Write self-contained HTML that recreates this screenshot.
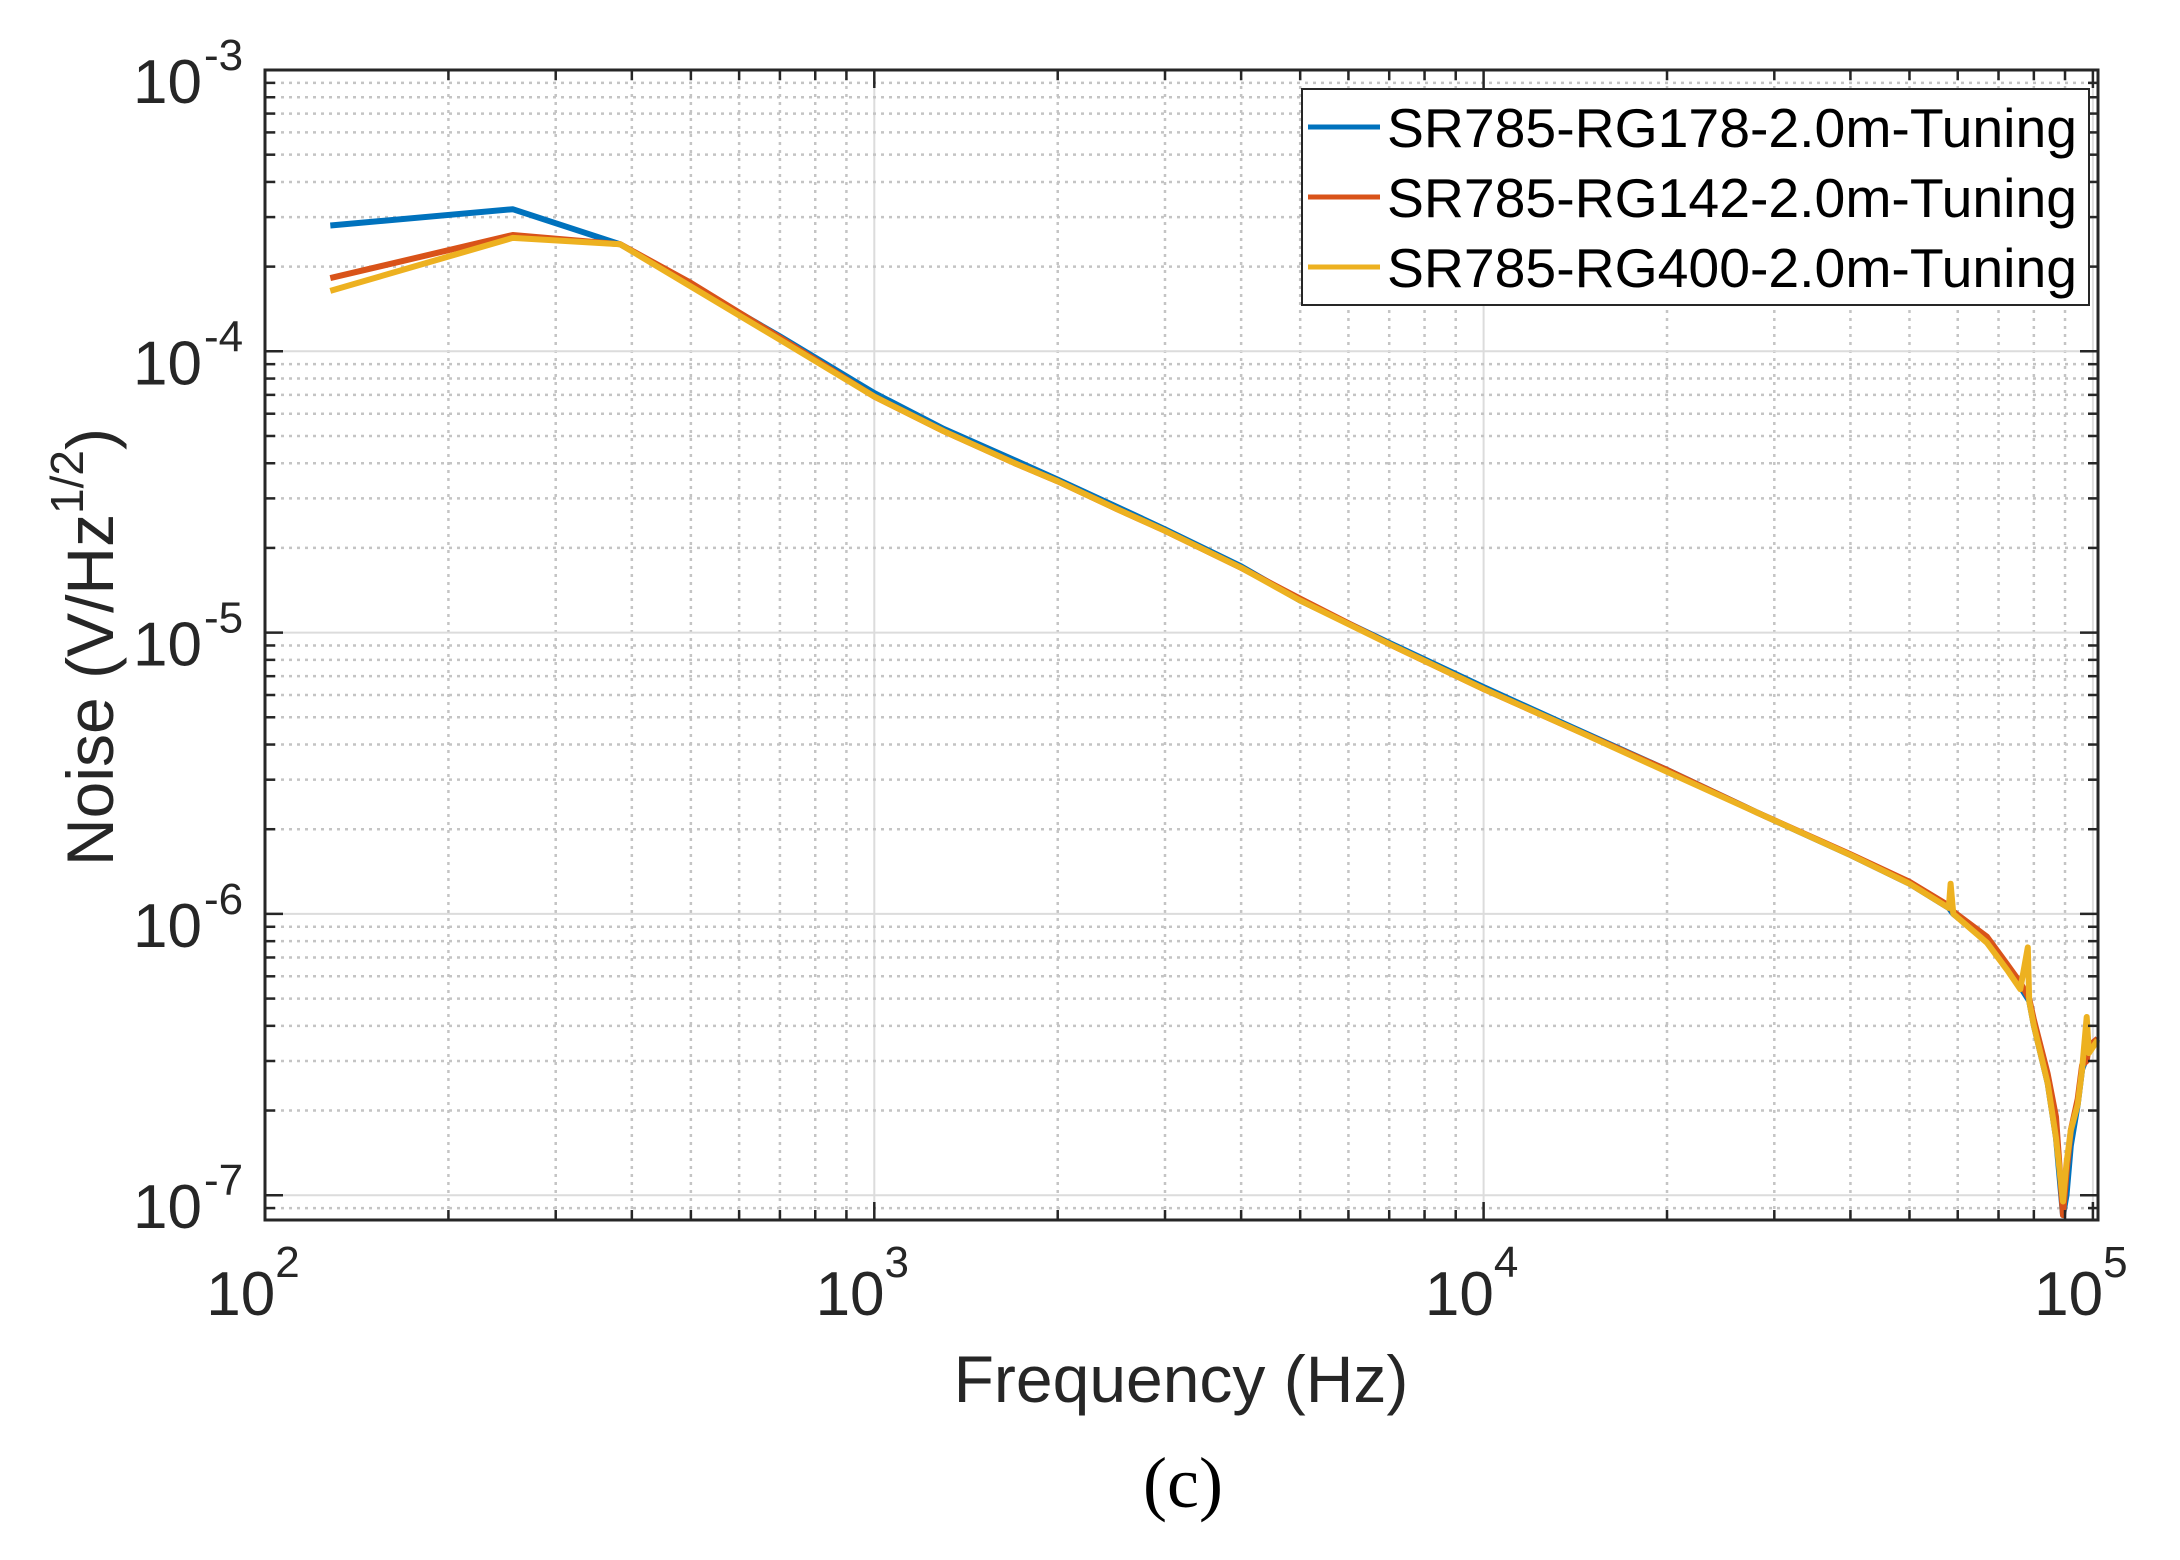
<!DOCTYPE html>
<html><head><meta charset="utf-8">
<style>
html,body{margin:0;padding:0;background:#fff;}
svg{display:block;font-family:"Liberation Sans",Arial,sans-serif;}
</style></head>
<body>
<svg id="chart" width="2180" height="1560" viewBox="0 0 2180 1560" xmlns="http://www.w3.org/2000/svg">
<rect width="2180" height="1560" fill="#fff"/>
<g id="grid"></g>
<g id="series"></g>
<g id="axes"></g>
<g id="legend"></g>
<text x="1181" y="1402" font-size="66" text-anchor="middle" fill="#262626">Frequency (Hz)</text>
<text transform="translate(113,647) rotate(-90)" font-size="66" text-anchor="middle" fill="#262626">Noise (V/Hz<tspan font-size="46" dy="-30">1/2</tspan><tspan dy="30">)</tspan></text>
<text x="1183" y="1507" font-size="72" text-anchor="middle" fill="#000" font-family="'Liberation Serif',serif">(c)</text>
</svg>
<script>
// ---- data ----
const seriesNames = ["SR785-RG178-2.0m-Tuning","SR785-RG142-2.0m-Tuning","SR785-RG400-2.0m-Tuning"];
const seriesColors = ["#0072BD","#D95319","#EDB120"];
const freqA = [128,255,383,500,700,1000,1300,1700,2000,2500,3000,4000,5000,7000,10000,14000,20000,28000,40000,50000,58000,58400,59000,67000,72400,76000,78200,78600,80000,84300,87000,89300,90500,92000,94400,96000,97700,98500,101800];
const blueVals = [2.8e-4,3.2e-4,2.4e-4,1.72e-4,1.13e-4,7.1e-5,5.3e-5,4.1e-5,3.5e-5,2.8e-5,2.33e-5,1.72e-5,1.3e-5,9.2e-6,6.4e-6,4.6e-6,3.25e-6,2.3e-6,1.62e-6,1.28e-6,1.05e-6,1.03e-6,1.0e-6,8.0e-7,6.4e-7,5.5e-7,5.0e-7,4.9e-7,4.0e-7,2.5e-7,1.6e-7,8.5e-8,1.0e-7,1.5e-7,2.1e-7,2.8e-7,3.1e-7,3.3e-7,3.6e-7];
const redVals = [1.82e-4,2.59e-4,2.4e-4,1.75e-4,1.12e-4,6.9e-5,5.2e-5,4.0e-5,3.45e-5,2.75e-5,2.3e-5,1.7e-5,1.32e-5,9.1e-6,6.3e-6,4.55e-6,3.25e-6,2.3e-6,1.63e-6,1.3e-6,1.07e-6,1.05e-6,1.02e-6,8.3e-7,6.6e-7,5.7e-7,5.1e-7,5.0e-7,4.2e-7,2.7e-7,1.9e-7,8.5e-8,1.2e-7,1.7e-7,2.2e-7,2.9e-7,3.0e-7,3.4e-7,3.6e-7];
const yellowVals = [1.64e-4,2.53e-4,2.4e-4,1.7e-4,1.1e-4,6.9e-5,5.2e-5,4.0e-5,3.45e-5,2.75e-5,2.3e-5,1.7e-5,1.3e-5,9.1e-6,6.3e-6,4.55e-6,3.2e-6,2.3e-6,1.62e-6,1.28e-6,1.05e-6,1.28e-6,1.0e-6,7.9e-7,6.3e-7,5.4e-7,7.6e-7,4.9e-7,4.0e-7,2.5e-7,1.6e-7,9.5e-8,1.3e-7,1.7e-7,2.1e-7,2.8e-7,4.3e-7,3.2e-7,3.56e-7];
const xTickExps = [2,3,4,5];
const yTickExps = [-3,-4,-5,-6,-7];

// ---- layout ----
const L=265,R=2098,T=70,B=1220,DX=609.3,DY=281.3;
const X=f=>L+(Math.log10(f)-2)*DX;
const Y=v=>T+(-3-Math.log10(v))*DY;
const NS="http://www.w3.org/2000/svg";
function mk(tag,attrs,parent){const e=document.createElementNS(NS,tag);for(const k in attrs)e.setAttribute(k,attrs[k]);parent.appendChild(e);return e;}
const grid=document.getElementById('grid'),axes=document.getElementById('axes'),ser=document.getElementById('series'),leg=document.getElementById('legend');
const xMax=Math.pow(10,2+(R-L)/DX), yMin=Math.pow(10,-3-(B-T)/DY);

for(let d=2;d<=5;d++){for(let m=1;m<10;m++){const f=m*Math.pow(10,d);if(f>xMax)break;const x=X(f);if(x<L-0.5)continue;
 const major=m===1;
 const g=mk('line',{x1:x,x2:x,y1:T,y2:B,stroke:major?'#dcdcdc':'#c4c4c4','stroke-width':major?2:2.5,'stroke-dasharray':major?'':'3 5'},grid);
 
 
 const tl=major?18:10;
 const t1=mk('line',{x1:x,x2:x,y1:B,y2:B-tl,stroke:'#262626','stroke-width':2.5},axes);
 
 
 const t2=mk('line',{x1:x,x2:x,y1:T,y2:T+tl,stroke:'#262626','stroke-width':2.5},axes);
 
 
}}
for(let d=-8;d<=-4;d++){for(let m=1;m<10;m++){const v=m*Math.pow(10,d);if(v<yMin||v>1e-3+1e-12)continue;const y=Y(v);
 const major=m===1;
 const g=mk('line',{x1:L,x2:R,y1:y,y2:y,stroke:major?'#dcdcdc':'#c4c4c4','stroke-width':major?2:2.5,'stroke-dasharray':major?'':'3 5'},grid);
 
 
 const tl=major?18:10;
 const t1=mk('line',{x1:L,x2:L+tl,y1:y,y2:y,stroke:'#262626','stroke-width':2.5},axes);
 
 
 const t2=mk('line',{x1:R,x2:R-tl,y1:y,y2:y,stroke:'#262626','stroke-width':2.5},axes);
 
 
}}
const allVals=[blueVals,redVals,yellowVals];
allVals.forEach((vals,i)=>{
 const d=freqA.map((f,j)=>(j?'L':'M')+X(f).toFixed(1)+','+Math.min(Y(vals[j]),B+2).toFixed(1)).join(' ');
 const p=mk('path',{d:d,fill:'none',stroke:seriesColors[i],'stroke-width':6,'stroke-linejoin':'round'},ser);
 
 
});
const box=mk('rect',{x:L,y:T,width:R-L,height:B-T,fill:'none',stroke:'#262626','stroke-width':3},axes);


xTickExps.forEach(e=>{
 const x=X(Math.pow(10,e));
 const t=mk('text',{x:x-12,y:1315,'font-size':62,'text-anchor':'middle',fill:'#262626'},axes);
 
 
 t.textContent='10';
 const s=mk('tspan',{'font-size':44,dy:-38},t);s.textContent=String(e);
});
yTickExps.forEach(e=>{
 const y=Y(Math.pow(10,e));
 const t=mk('text',{x:202,y:y+33,'font-size':62,'text-anchor':'end',fill:'#262626'},axes);
 
 
 t.textContent='10';
 const s=mk('text',{x:204,y:y,'font-size':44,'text-anchor':'start',fill:'#262626'},axes);
 
 
 s.textContent=String(e);
});
const lb=mk('rect',{x:1302,y:89,width:787,height:216,fill:'#fff',stroke:'#262626','stroke-width':2},leg);


seriesNames.forEach((n,i)=>{
 const cy=127+i*70;
 const ln=mk('line',{x1:1308,x2:1380,y1:cy,y2:cy,stroke:seriesColors[i],'stroke-width':5},leg);
 
 
 const t=mk('text',{x:1387,y:cy+20,'font-size':55,fill:'#000',textLength:690,lengthAdjust:'spacingAndGlyphs'},leg);
 
 
 t.textContent=n;
});
</script>
</body></html>
